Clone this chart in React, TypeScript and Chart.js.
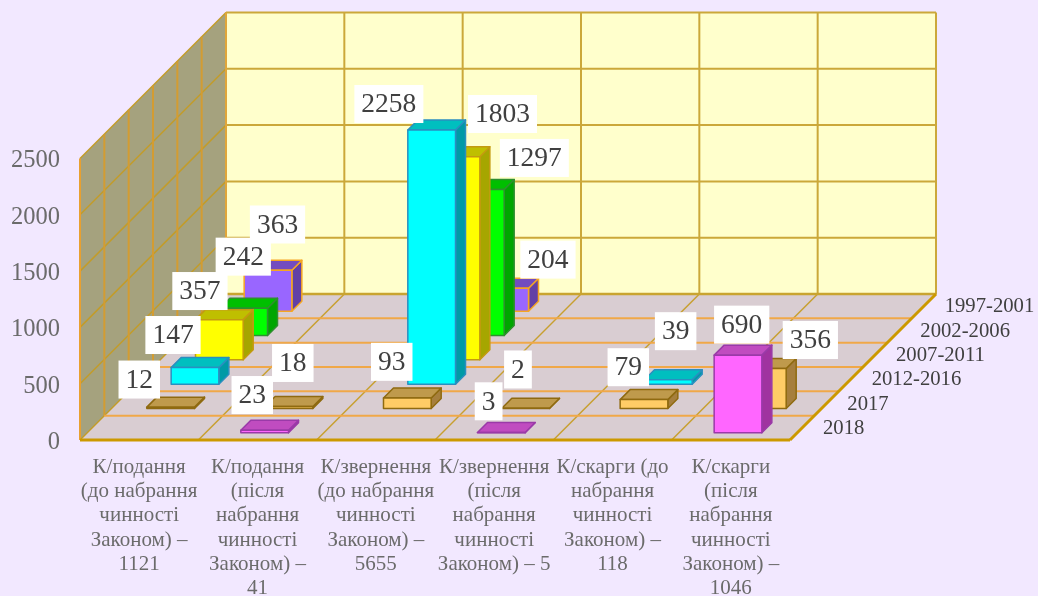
import React, { useEffect, useRef } from "react";
import { Chart, registerables } from "chart.js";

Chart.register(...registerables);

const categories: string[][] = [
  ["К/подання", "(до набрання", "чинності", "Законом) –", "1121"],
  ["К/подання", "(після", "набрання", "чинності", "Законом) –", "41"],
  ["К/звернення", "(до набрання", "чинності", "Законом) –", "5655"],
  ["К/звернення", "(після", "набрання", "чинності", "Законом) – 5"],
  ["К/скарги (до", "набрання", "чинності", "Законом) –", "118"],
  ["К/скарги", "(після", "набрання", "чинності", "Законом) –", "1046"],
];

const periods = ["2018", "2017", "2012-2016", "2007-2011", "2002-2006", "1997-2001"];

const values2018 = [null, 23, null, 3, null, 690];
const values2017 = [12, 18, 93, 2, 79, 356];
const values2012 = [147, null, 2258, null, 39, null];
const values2007 = [357, null, 1803, null, null, null];
const values2002 = [242, null, 1297, null, null, null];
const values1997 = [363, null, 204, null, null, null];
const seriesValues = [values2018, values2017, values2012, values2007, values2002, values1997];

// Label placement relative to the top-front centre of each bar: [series, category, dx, dy]
const labelShift: [number, number, number, number][] = [
  [5, 0, 9.5, -45.8], [4, 0, -0.4, -51.6], [3, 0, -19.4, -28.6], [2, 0, -22, -32.6], [1, 0, -31.4, -27.6],
  [1, 1, 3.8, -43.5], [0, 1, -12.4, -35.2],
  [5, 2, 43.3, -28.6], [4, 2, 54, -31.5], [3, 2, 46.5, -42.8], [2, 2, -42.8, -25.9], [1, 2, -15.6, -36.2],
  [1, 3, -7.7, -38.8], [0, 3, -12.7, -31.2],
  [2, 4, 7.3, -48.6], [1, 4, -15.7, -32.4],
  [1, 5, 48, -28.4], [0, 5, 3.7, -30.5],
];

type Look = { front: string; top: string; side: string; edge: string };
const looks: Look[] = [
  { front: "#ff66ff", top: "#c04cc0", side: "#a033a0", edge: "#9a3aa8" },
  { front: "#ffcc66", top: "#bf9a4c", side: "#a67f3d", edge: "#8f6a10" },
  { front: "#00ffff", top: "#00bfbf", side: "#009aa6", edge: "#2a8fc0" },
  { front: "#ffff00", top: "#bfbf00", side: "#a6a600", edge: "#c49a10" },
  { front: "#00ff00", top: "#00bf00", side: "#00a600", edge: "#2f8f2f" },
  { front: "#9966ff", top: "#734cbf", side: "#6340a6", edge: "#f5a623" },
];

const SERIF = '"Liberation Serif", serif';
const DEPTH = 146;
const BAR_SHARE = 0.403;
const BAR_DEPTH = 10;

const scene = {
  id: "scene",
  beforeDraw(chart: any) {
    const { ctx, scales } = chart;
    const x = scales.x, y = scales.y;
    const L = x.left, R = x.right, B = y.bottom, T = y.top;
    const n = categories.length, m = periods.length;
    const cw = (R - L) / n, cd = DEPTH / m;
    ctx.save();
    ctx.fillStyle = "#f2e8ff";
    ctx.fillRect(0, 0, chart.width, chart.height);

    const poly = (pts: number[][], fill: string) => {
      ctx.beginPath();
      pts.forEach((p, i) => (i ? ctx.lineTo(p[0], p[1]) : ctx.moveTo(p[0], p[1])));
      ctx.closePath();
      ctx.fillStyle = fill;
      ctx.fill();
    };
    const line = (a: number, b: number, c: number, d: number, col: string, w: number) => {
      ctx.beginPath();
      ctx.moveTo(a, b);
      ctx.lineTo(c, d);
      ctx.strokeStyle = col;
      ctx.lineWidth = w;
      ctx.stroke();
    };

    poly([[L + DEPTH, T - DEPTH], [R + DEPTH, T - DEPTH], [R + DEPTH, B - DEPTH], [L + DEPTH, B - DEPTH]], "#ffffcc");
    poly([[L, T], [L + DEPTH, T - DEPTH], [L + DEPTH, B - DEPTH], [L, B]], "#a5a27e");
    poly([[L, B], [R, B], [R + DEPTH, B - DEPTH], [L + DEPTH, B - DEPTH]], "#d9cdd2");

    // walls: value lines
    y.ticks.forEach((t: any) => {
      const py = y.getPixelForValue(t.value);
      line(L, py, L + DEPTH, py - DEPTH, "#c39c28", 1.5);
      if (t.value > 0) line(L + DEPTH, py - DEPTH, R + DEPTH, py - DEPTH, "#cba83a", 2);
    });
    // back wall and floor: category lines
    for (let i = 0; i <= n; i++) {
      const px = L + i * cw;
      if (i > 0) line(px, B, px + DEPTH, B - DEPTH, "#c8a030", 1.5);
      line(px + DEPTH, T - DEPTH, px + DEPTH, B - DEPTH, "#cba83a", 2);
    }
    // left wall and floor: depth lines
    for (let d = 1; d < m; d++) {
      const o = d * cd;
      line(L + o, T - o, L + o, B - o, "#d39c32", 2);
      line(L + o, B - o, R + o, B - o, "#f0a848", 2);
    }
    line(L + DEPTH, B - DEPTH, R + DEPTH, B - DEPTH, "#c9a430", 2.5);
    line(L, B, L, T, "#e8a030", 2);
    line(L + DEPTH, T - DEPTH, L + DEPTH, B - DEPTH, "#e0a63a", 2);
    line(L, B, R, B, "#cc9900", 3);
    line(R, B, R + DEPTH, B - DEPTH, "#cc9900", 3);

    // depth axis labels
    ctx.font = `20.7px ${SERIF}`;
    ctx.fillStyle = "#404040";
    ctx.textAlign = "left";
    ctx.textBaseline = "middle";
    periods.forEach((p, d) => {
      ctx.fillText(p, R + 33 + d * cd, B - 11.5 - d * cd);
    });
    ctx.restore();
  },
  beforeDatasetsDraw(chart: any) {
    const { ctx, scales, data } = chart;
    const x = scales.x, y = scales.y;
    const n = categories.length, m = periods.length;
    const cw = (x.right - x.left) / n, cd = DEPTH / m;
    const w = cw * BAR_SHARE;
    const inset = (cd - BAR_DEPTH) / 2;
    const base = y.getPixelForValue(0);
    const shape = (pts: number[][], fill: string, edge: string) => {
      ctx.beginPath();
      pts.forEach((p, i) => (i ? ctx.lineTo(p[0], p[1]) : ctx.moveTo(p[0], p[1])));
      ctx.closePath();
      ctx.fillStyle = fill;
      ctx.fill();
      ctx.strokeStyle = edge;
      ctx.lineWidth = 1.5;
      ctx.lineJoin = "round";
      ctx.stroke();
    };
    const head = (d: number, c: number) => {
      const v = data.datasets[d].data[c];
      const shift = d * cd + inset;
      const cx = x.getPixelForValue(c) + shift;
      const top = y.getPixelForValue(v) - shift;
      return { v, cx, top, bottom: base - shift };
    };
    ctx.save();
    for (let d = m - 1; d >= 0; d--) {
      const look = looks[d];
      for (let c = 0; c < n; c++) {
        if (data.datasets[d].data[c] == null) continue;
        const { cx, top, bottom } = head(d, c);
        const l = cx - w / 2, r = cx + w / 2, k = BAR_DEPTH;
        shape([[r, top], [r + k, top - k], [r + k, bottom - k], [r, bottom]], look.side, look.edge);
        shape([[l, top], [l + k, top - k], [r + k, top - k], [r, top]], look.top, look.edge);
        shape([[l, top], [r, top], [r, bottom], [l, bottom]], look.front, look.edge);
      }
    }
    ctx.font = `27.5px ${SERIF}`;
    ctx.textAlign = "center";
    ctx.textBaseline = "middle";
    labelShift.forEach(([d, c, dx, dy]) => {
      const { v, cx, top } = head(d, c);
      const text = String(v);
      const bw = ctx.measureText(text).width + 14;
      ctx.fillStyle = "#ffffff";
      ctx.fillRect(cx + dx - bw / 2, top + dy - 19, bw, 38);
      ctx.fillStyle = "#404040";
      ctx.fillText(text, cx + dx, top + dy + 1);
    });
    ctx.restore();
    return false;
  },
};

export default function App() {
  const ref = useRef<HTMLCanvasElement>(null);
  useEffect(() => {
    document.body.style.margin = "0";
    document.body.style.background = "#f2e8ff";
    const chart = new Chart(ref.current as HTMLCanvasElement, {
      type: "bar",
      data: {
        labels: categories as any,
        datasets: periods.map((p, d) => ({
          label: p,
          data: seriesValues[d] as any,
          backgroundColor: looks[d].front,
          borderColor: looks[d].edge,
        })),
      },
      options: {
        animation: false,
        responsive: false,
        devicePixelRatio: 1,
        layout: { padding: { left: 0, right: 248, top: 158.5, bottom: 0 } },
        plugins: { legend: { display: false }, title: { display: false }, tooltip: { enabled: false } },
        scales: {
          x: {
            grid: { display: false, drawTicks: false },
            border: { display: false },
            afterFit: (s: any) => { s.height = 156; },
            ticks: {
              autoSkip: false,
              maxRotation: 0,
              minRotation: 0,
              padding: 15,
              color: "#6b6b6b",
              font: { family: SERIF, size: 21, lineHeight: 1.157 },
            },
          },
          y: {
            min: 0,
            max: 2500,
            grid: { display: false, drawTicks: false },
            border: { display: false },
            afterFit: (s: any) => { s.width = 80; },
            ticks: {
              stepSize: 500,
              padding: 20,
              labelOffset: 2.5,
              color: "#6b6b6b",
              font: { family: SERIF, size: 24.5 },
              callback: (v: any) => String(v),
            },
          },
        },
      },
      plugins: [scene],
    } as any);
    return () => chart.destroy();
  }, []);
  return (
    <div style={{ position: "absolute", left: 0, top: 0, width: 1038, height: 596, overflow: "hidden" }}>
      <canvas ref={ref} width={1038} height={596} style={{ display: "block" }} />
    </div>
  );
}
